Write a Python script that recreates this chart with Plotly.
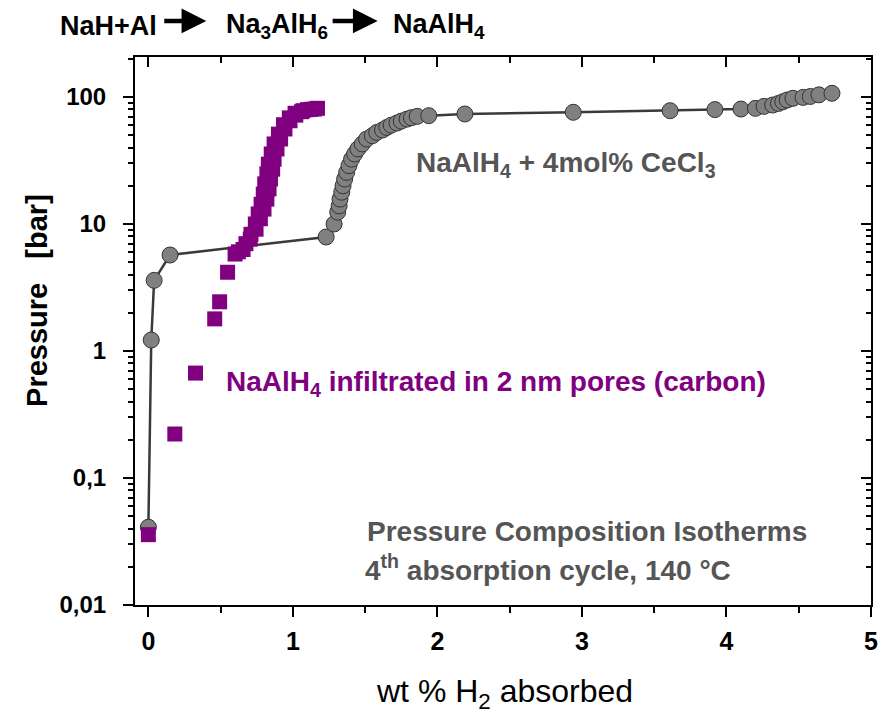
import plotly.graph_objects as go

# Grey series: NaAlH4 + 4mol% CeCl3
grey_x = [0.00, 0.02, 0.04, 0.15, 1.23, 1.285, 1.31, 1.32, 1.326, 1.338, 1.347, 1.358, 1.372,
          1.388, 1.406, 1.427, 1.45, 1.48, 1.51, 1.55, 1.58, 1.62, 1.65, 1.68, 1.72, 1.75,
          1.79, 1.82, 1.86, 1.94, 2.19, 2.94, 3.61, 3.92, 4.10, 4.20, 4.26, 4.32, 4.36, 4.39,
          4.42, 4.46, 4.53, 4.58, 4.64, 4.73]
grey_p = [0.041, 1.22, 3.6, 5.7, 7.9, 10.0, 12.4, 13.9, 15.7, 17.8, 20.0, 22.6, 25.5,
          28.8, 32.4, 35.6, 39, 42.7, 46.7, 49.6, 52.6, 55, 57.6, 60, 62.4, 64.6,
          67, 68.7, 70.4, 71.3, 73.5, 75.8, 78, 79.6, 80.4, 81.4, 84.4, 86.5, 89, 91.8,
          94.7, 97.7, 99.3, 101, 104, 107]

# Purple series: NaAlH4 infiltrated in 2 nm pores (carbon)
purple_x = [0.0, 0.183, 0.326, 0.459, 0.493, 0.548, 0.60, 0.623, 0.655, 0.675, 0.705, 0.71,
            0.745, 0.74, 0.775, 0.76, 0.80, 0.78, 0.82, 0.795, 0.835, 0.805, 0.845, 0.82, 0.86,
            0.83, 0.87, 0.85, 0.89, 0.87, 0.915, 0.90, 0.945, 0.935, 0.98, 0.975, 1.02, 1.015,
            1.06, 1.07, 1.10, 1.125, 1.15, 1.17]
purple_p = [0.0358, 0.222, 0.67, 1.79, 2.44, 4.17, 5.8, 6.04, 6.3, 7.0, 7.6, 8.3,
            9.1, 10, 11, 12, 13.1, 14.3, 15.7, 17.2, 18.9, 20.7, 22.6, 24.8, 27,
            29.6, 32.4, 35.6, 39, 42.7, 46.7, 51, 56, 60.5, 65, 68.5, 72, 74.5,
            76.6, 78, 79.5, 80, 80.4, 81.5]

x_ticks = [0, 1, 2, 3, 4, 5]
y_tickvals = [0.01, 0.1, 1, 10, 100]
y_ticktext = ["0,01", "0,1", "1", "10", "100"]
y_minor_vals = [m * d for d in (0.01, 0.1, 1, 10, 100) for m in range(2, 10)]

# reaction scheme shown above the plot
scheme = ["NaH+Al", "Na<sub>3</sub>AlH<sub>6</sub>", "NaAlH<sub>4</sub>"]

FONT = "Liberation Sans, Arial, sans-serif"

fig = go.Figure()
fig.add_trace(go.Scatter(
    x=grey_x, y=grey_p, mode="lines+markers",
    line=dict(color="#3a3a3a", width=2.5),
    marker=dict(symbol="circle", size=16, color="#808080", line=dict(color="#333333", width=1)),
    showlegend=False))
fig.add_trace(go.Scatter(
    x=purple_x, y=purple_p, mode="markers",
    marker=dict(symbol="square", size=15, color="#800080", line=dict(width=0)),
    showlegend=False))
# invisible trace so the mirrored (top/right) axes are drawn
fig.add_trace(go.Scatter(x=[None], y=[None], xaxis="x2", yaxis="y2", showlegend=False))

xr = [-0.0925, 5.0]
yr = [-2, 2.315]

fig.update_layout(
    width=880, height=707,
    margin=dict(l=127, r=10, t=49, b=110),
    paper_bgcolor="white", plot_bgcolor="white",
    xaxis=dict(range=xr, tickvals=x_ticks, ticks="outside", ticklen=10, tickwidth=2,
               tickcolor="black", showline=True, linewidth=2, linecolor="black",
               showgrid=False, zeroline=False, ticklabelstandoff=3,
               tickfont=dict(family=FONT, size=25, color="black", weight="bold"),
               minor=dict(dtick=0.5, ticks="outside", ticklen=6, tickwidth=2, tickcolor="black")),
    yaxis=dict(type="log", range=yr, tickvals=y_tickvals, ticktext=y_ticktext,
               ticks="outside", ticklen=10, tickwidth=2, tickcolor="black",
               showline=True, linewidth=2, linecolor="black", showgrid=False, zeroline=False,
               ticklabelstandoff=12,
               tickfont=dict(family=FONT, size=24, color="black", weight="bold"),
               minor=dict(tickvals=y_minor_vals, ticks="outside", ticklen=5, tickwidth=1.5,
                          tickcolor="black", showgrid=False)),
    xaxis2=dict(range=xr, overlaying="x", side="top", tickvals=x_ticks, ticks="inside",
                ticklen=10, tickwidth=2, tickcolor="black", showticklabels=False,
                showline=True, linewidth=2, linecolor="black", showgrid=False, zeroline=False,
                minor=dict(dtick=0.5, ticks="inside", ticklen=6, tickwidth=2, tickcolor="black")),
    yaxis2=dict(type="log", range=yr, overlaying="y", side="right", tickvals=y_tickvals,
                ticks="inside", ticklen=10, tickwidth=2, tickcolor="black", showticklabels=False,
                showline=True, linewidth=2, linecolor="black", showgrid=False, zeroline=False,
                minor=dict(tickvals=y_minor_vals, ticks="inside", ticklen=5, tickwidth=1.5,
                           tickcolor="black", showgrid=False)),
)

def ann(text, x, y, size, color, xanchor="left", angle=0):
    fig.add_annotation(text=text, x=x, y=y, xref="paper", yref="paper", showarrow=False,
                       xanchor=xanchor, yanchor="middle", textangle=angle,
                       font=dict(family=FONT, size=size, color=color))

def arrow(x0, x1, y):
    fig.add_annotation(x=x1, y=y, ax=x0, ay=y, xref="x domain", yref="y domain",
                       axref="x domain", ayref="y domain", text="", showarrow=True,
                       arrowhead=2, arrowsize=1.1, arrowwidth=4.5, arrowcolor="black",
                       standoff=0, startstandoff=0)

# reaction scheme: NaH+Al -> Na3AlH6 -> NaAlH4
for label, xpos in zip(scheme, [-0.105, 0.1211, 0.3472]):
    ann("<b>" + label + "</b>", xpos, 1.0566, 27, "black")
arrow(0.0377, 0.0969, 1.0657)
arrow(0.2665, 0.3297, 1.0657)

ann("<b>NaAlH<sub>4</sub> + 4mol% CeCl<sub>3</sub></b>", 0.3795, 0.803, 28, "#555555")
ann("<b>NaAlH<sub>4</sub> infiltrated in 2 nm pores (carbon)</b>", 0.1211, 0.405, 28, "#800080")
ann("<b>Pressure Composition Isotherms</b>", 0.3122, 0.135, 28, "#555555")
ann("<b>4<sup>th</sup> absorption cycle, 140 °C</b>", 0.3095, 0.0675, 28, "#555555")
ann("<b>Pressure   [bar]</b>", -0.1332, 0.5566, 29, "black", xanchor="center", angle=-90)
ann("wt % H<sub>2</sub> absorbed", 0.502, -0.1624, 32, "black", xanchor="center")

fig.write_html("out.html")
